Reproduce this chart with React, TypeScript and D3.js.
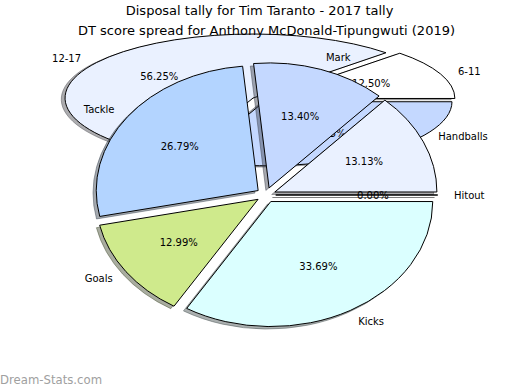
import React from "react";
import * as d3 from "d3";

const W = 520;
const H = 390;

// Background pie: Tim Taranto 2017 disposal tally
const bgCategories = ["6-11", "12-17", "18-23"];
const bgValues = [12.5, 56.25, 31.25];
const bgColors = ["#ffffff", "#eaf1ff", "#c4d8ff"];
const bgTitle = "Disposal tally for Tim Taranto - 2017 tally";

// Foreground pie: DT score spread
const fgCategories = ["Hitout", "Handballs", "Mark", "Tackle", "Goals", "Kicks"];
const fgValues = [0.0, 13.13, 13.4, 26.79, 12.99, 33.69];
const fgColors = ["#e6e6e6", "#eaf1ff", "#c4d8ff", "#b3d4ff", "#cfea8c", "#dbffff"];
const fgTitle = "DT score spread for Anthony McDonald-Tipungwuti (2019)";

const watermark = "Dream-Stats.com";

type PieSpec = {
  cats: string[];
  vals: number[];
  colors: string[];
  cx: number;
  cy: number;
  sx: number;
  sy: number;
  explode: number;
};

function shade(c: string) {
  const col = d3.rgb(c);
  return d3.rgb(col.r * 0.3, col.g * 0.3, col.b * 0.3).formatHex();
}

function Pie({ cats, vals, colors, cx, cy, sx, sy, explode }: PieSpec) {
  const pie = d3
    .pie<number>()
    .sort(null)
    .value((d) => d)
    .startAngle(Math.PI / 2)
    .endAngle(Math.PI / 2 - 2 * Math.PI);
  const arcs = pie(vals);
  const arc = d3.arc<any>().innerRadius(0).outerRadius(1);
  const items = arcs.map((a, i) => {
    const mid = (a.startAngle + a.endAngle) / 2; // d3 angle
    const th = Math.PI / 2 - mid; // math angle
    const ox = explode * Math.cos(th);
    const oy = explode * Math.sin(th);
    const wx = cx + sx * ox;
    const wy = cy - sy * oy;
    return { a, i, th, wx, wy, d: arc(a) as string };
  });
  const shx = -0.02 * sx;
  const shy = 0.02 * sy;
  return (
    <g>
      {items.map((it) => (
        <path
          key={"s" + it.i}
          d={it.d}
          transform={`translate(${it.wx + shx},${it.wy + shy}) scale(${sx},${sy})`}
          fill={shade(colors[it.i])}
          fillOpacity={0.45}
          stroke={shade(colors[it.i])}
          strokeOpacity={0.45}
          strokeWidth={1}
          vectorEffect="non-scaling-stroke"
        />
      ))}
      {items.map((it) => (
        <path
          key={"w" + it.i}
          d={it.d}
          transform={`translate(${it.wx},${it.wy}) scale(${sx},${sy})`}
          fill={colors[it.i]}
          stroke="#000"
          strokeWidth={1}
          strokeLinejoin="round"
          vectorEffect="non-scaling-stroke"
        />
      ))}
      {items.map((it) => {
        const lx = it.wx + 1.1 * sx * Math.cos(it.th);
        const ly = it.wy - 1.1 * sy * Math.sin(it.th);
        const px = it.wx + 0.6 * sx * Math.cos(it.th);
        const py = it.wy - 0.6 * sy * Math.sin(it.th);
        return (
          <g key={"t" + it.i}>
            <text
              x={lx}
              y={ly}
              textAnchor={Math.cos(it.th) > 0 ? "start" : "end"}
              dominantBaseline="central"
              fontSize={10}
              fill="#000"
            >
              {cats[it.i]}
            </text>
            <text
              x={px}
              y={py}
              textAnchor="middle"
              dominantBaseline="central"
              fontSize={10}
              fill="#000"
            >
              {vals[it.i].toFixed(2) + "%"}
            </text>
          </g>
        );
      })}
    </g>
  );
}

export default function App() {
  return (
    <svg
      width={W}
      height={H}
      viewBox={`0 0 ${W} ${H}`}
      style={{ position: "absolute", left: 0, top: 0, background: "#fff" }}
      fontFamily="DejaVu Sans, sans-serif"
    >
      <rect width={W} height={H} fill="#fff" />
      <Pie
        cats={bgCategories}
        vals={bgValues}
        colors={bgColors}
        cx={259.6}
        cy={99.5}
        sx={188}
        sy={64}
        explode={0.042}
      />
      <text x={259.6} y={10} textAnchor="middle" dominantBaseline="central" fontSize={13}>
        {bgTitle}
      </text>
      <Pie
        cats={fgCategories}
        vals={fgValues}
        colors={fgColors}
        cx={266}
        cy={195}
        sx={162}
        sy={125}
        explode={0.06}
      />
      <text x={266.5} y={30} textAnchor="middle" dominantBaseline="central" fontSize={13}>
        {fgTitle}
      </text>
      <text x={0} y={380} dominantBaseline="central" fontSize={11.7} fill="#a0a0a0">
        {watermark}
      </text>
    </svg>
  );
}
